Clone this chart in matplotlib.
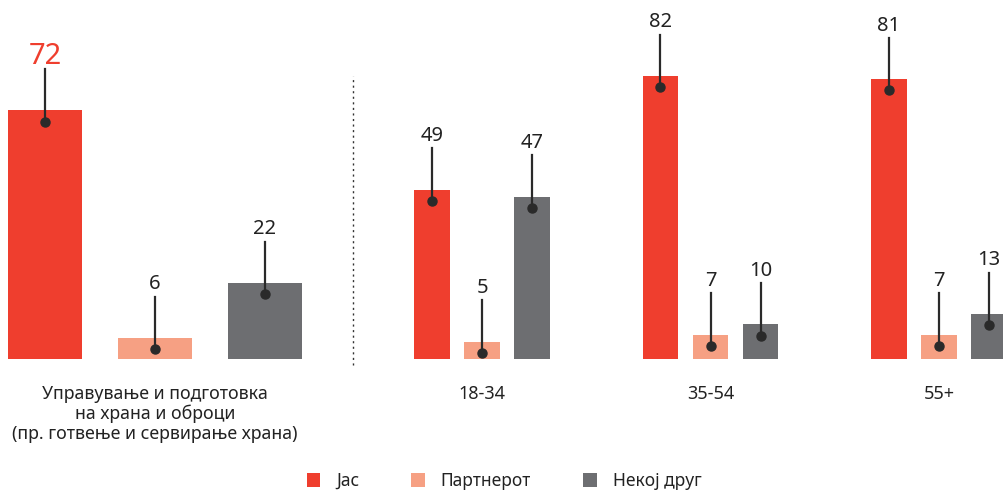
import matplotlib.pyplot as plt
from matplotlib.patches import Patch

plt.rcParams["font.family"] = ["Noto Sans", "DejaVu Sans"]

SERIES = ["Јас", "Партнерот", "Некој друг"]
COLORS = ["#EF3E2E", "#F6A083", "#6D6E71"]
STEM_COLOR = "#2A2A2A"

# left block: total
TOTAL_LABEL = "Управување и подготовка\nна храна и оброци\n(пр. готвење и сервирање храна)"
TOTAL_VALUES = [72, 6, 22]

# right block: age groups
AGE_GROUPS = ["18-34", "35-54", "55+"]
AGE_SELF = [49, 82, 81]
AGE_PARTNER = [5, 7, 7]
AGE_OTHER = [47, 10, 13]

YMAX = 104


def lollipop(ax, x, v, fontsize=14.5, color="#222222"):
    """Stem with a dot just inside the bar top and the value above it."""
    ax.plot([x, x], [v - 3.2, v + 12], color=STEM_COLOR, lw=1.6, zorder=3, clip_on=False)
    ax.plot(x, v - 3.2, "o", color=STEM_COLOR, ms=6.5, zorder=4, clip_on=False)
    ax.text(x, v + 15.6, f"{v}", ha="center", va="center", fontsize=fontsize, color=color)


fig = plt.figure(figsize=(10.04, 4.93), dpi=100)
bottom = (493 - 359) / 493
ax_l = fig.add_axes([0, bottom, 360 / 1004, 1 - bottom])
ax_r = fig.add_axes([360 / 1004, bottom, 644 / 1004, 1 - bottom])

# left panel
for i, v in enumerate(TOTAL_VALUES):
    ax_l.bar(i, v, width=0.673, color=COLORS[i], zorder=2)
    if i == 0:
        lollipop(ax_l, i, v, fontsize=21, color=COLORS[0])
    else:
        lollipop(ax_l, i, v)
ax_l.set_xlim(-45 / 110, 315 / 110)
ax_l.set_ylim(0, YMAX)
ax_l.text(1, -7.5, TOTAL_LABEL, ha="center", va="top", fontsize=12.8, color="#222222",
          linespacing=1.12)
ax_l.plot([2.8, 2.8], [-1.7, 82], color="#333333", lw=1, ls=(0, (1.5, 2.5)), clip_on=False)

# right panel
offsets = [-0.219, 0.0, 0.219]
for s, vals in enumerate([AGE_SELF, AGE_PARTNER, AGE_OTHER]):
    for g, v in enumerate(vals):
        x = g + offsets[s]
        ax_r.bar(x, v, width=0.155, color=COLORS[s], zorder=2)
        lollipop(ax_r, x, v)
for g, name in enumerate(AGE_GROUPS):
    ax_r.text(g, -7.5, name, ha="center", va="top", fontsize=13, color="#222222")
ax_r.set_xlim(-122 / 228.5, 522 / 228.5)
ax_r.set_ylim(0, YMAX)

for ax in (ax_l, ax_r):
    ax.axis("off")

handles = [Patch(facecolor=c, edgecolor="none") for c in COLORS]
fig.legend(handles, SERIES, loc="center", bbox_to_anchor=(0.502, 0.024), ncol=3,
           frameon=False, fontsize=12.5, handlelength=0.8, handleheight=0.8,
           columnspacing=3.0, handletextpad=0.9, labelcolor="#222222")

fig.savefig("out.png", dpi=100)
